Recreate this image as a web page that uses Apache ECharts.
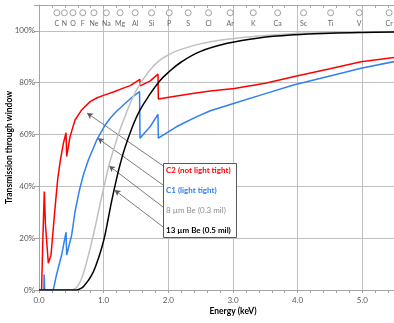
<!DOCTYPE html>
<html>
<head>
<meta charset="utf-8">
<script src="https://cdn.jsdelivr.net/npm/echarts@6/dist/echarts.min.js"></script>
<style>html,body{margin:0;padding:0;background:#fff}#c{width:394px;height:323px}</style>
</head>
<body>
<div id="c"></div>
<script>
// ---- data (Energy keV, Transmission %) ----
const c2Red = [[0.04,0],[0.06,20],[0.082,38],[0.1,25],[0.108,22.5],[0.125,22],[0.144,10.3],[0.186,13.5],[0.22,23.5],[0.26,35],[0.29,43],[0.33,50],[0.377,56.6],[0.418,60.7],[0.428,51.5],[0.48,59.2],[0.557,65.6],[0.66,69.5],[0.79,72.7],[0.9,74.2],[1.02,75.3],[1.15,76.4],[1.305,77.9],[1.41,78.9],[1.56,81.3],[1.565,78.8],[1.72,80.7],[1.84,83.3],[1.845,73.7],[2.13,74.9],[2.4,75.9],[2.65,76.8],[3.02,77.8],[3.5,79.8],[3.95,82.4],[4.5,85.4],[4.98,88.1],[5.5,89.8],[5.6,90.1]];
const c1Blue = [[0.0,0],[0.075,0],[0.08,6],[0.088,0],[0.22,0],[0.27,5.8],[0.35,13.5],[0.418,22.3],[0.428,13.5],[0.505,21.2],[0.557,30.2],[0.62,38],[0.686,44.4],[0.763,50.2],[0.893,57.9],[1.02,63.5],[1.1,66.3],[1.2,69],[1.305,71.4],[1.43,74.2],[1.555,76.6],[1.562,58.6],[1.72,63.1],[1.84,67.8],[1.845,58.6],[2.0,61],[2.13,63.1],[2.44,66.9],[2.65,69.2],[3.02,72.1],[3.5,75.8],[3.95,79.2],[4.5,82.6],[4.98,85.6],[5.5,88.2],[5.6,88.7]];
const be8Grey = [[0,0],[0.5,0],[0.56,0.5],[0.61,2],[0.66,4.5],[0.71,8.4],[0.76,13],[0.816,18.6],[0.87,24.5],[0.918,30.2],[0.97,36],[1.02,41.5],[1.08,48],[1.176,56],[1.254,62],[1.33,67],[1.41,72],[1.5,76.8],[1.615,81.5],[1.72,85],[1.873,88.8],[2.0,90.7],[2.13,92.3],[2.49,95],[2.91,96.8],[3.4,98],[3.95,99],[4.5,99.4],[5.0,99.6],[5.6,99.7]];
const be13Black = [[0,0],[0.58,0],[0.65,0.6],[0.71,2],[0.76,3.6],[0.816,5.8],[0.87,8.8],[0.918,12.2],[0.97,16.3],[1.02,21.2],[1.07,27.5],[1.125,34.5],[1.2,43],[1.26,49],[1.33,55],[1.46,64],[1.563,69.5],[1.7,75],[1.86,80.5],[2.0,84],[2.2,88],[2.49,92],[2.91,95.2],[3.4,97.3],[3.95,98.5],[4.5,99.1],[5.0,99.4],[5.6,99.6]];
const seriesNames = ['C2 (not light tight)','C1 (light tight)','8 \u00b5m Be (0.3 mil)','13 \u00b5m Be (0.5 mil)'];
const seriesColors = ['#ff0000','#2f80f0','#c0c0c0','#000000'];
const elementNames = ['C','N','O','F','Ne','Na','Mg','Al','Si','P','S','Cl','Ar','K','Ca','Sc','Ti','V','Cr'];
const elementEnergies = [0.277,0.392,0.525,0.677,0.849,1.041,1.254,1.487,1.740,2.013,2.307,2.622,2.957,3.313,3.691,4.090,4.510,4.952,5.414];
const xTicks = [0,1,2,3,4,5,6];
const yTicks = [0,20,40,60,80,100];
// arrow annotations: [tail(E,T), head(E,T)]
const arrowHeads = [[0.743,68.3],[0.909,58.6],[1.084,47.9],[1.169,38.6]];
const arrowTails = [[1.92,47.9],[1.92,40.5],[1.92,32.0],[1.92,24.3]];

const FONT = 'Lato, "Liberation Sans", sans-serif';
const chart = echarts.init(document.getElementById('c'), null, {renderer:'canvas'});
const gridCol = '#bfbfbf', axisCol = '#a6a6a6';

const lineData = [c2Red, c1Blue, be8Grey, be13Black];
const series = lineData.map((d,i)=>({
  type:'line', name:seriesNames[i], data:d, showSymbol:false, symbol:'none',
  smooth: i>=2 ? 0.4 : false,
  lineStyle:{color:seriesColors[i], width:1.5}, itemStyle:{color:seriesColors[i]},
  z: 3+i, animation:false, xAxisIndex:0, yAxisIndex:0
}));
series.push({
  type:'scatter', xAxisIndex:0, yAxisIndex:0, animation:false, silent:true,
  data: elementEnergies.map((e,i)=>({value:[e,107], name:elementNames[i]})),
  symbol:'circle', symbolSize:6,
  itemStyle:{color:'#ffffff', borderColor:'#8c8c8c', borderWidth:1},
  label:{show:true, position:'bottom', distance:4, formatter:p=>p.name, fontSize:7, color:'#404040', fontFamily:FONT}
});
series.push({
  type:'line', data:[], xAxisIndex:0, yAxisIndex:0, animation:false, silent:true, z:2,
  markLine:{
    silent:true, animation:false, symbolSize:[5,6], label:{show:false}, z:2,
    lineStyle:{color:'#595959', width:0.8, type:'solid'},
    data: arrowHeads.map((h,i)=>[{coord:arrowTails[i], symbol:'none'},{coord:h, symbol:'arrow'}])
  }
});

chart.setOption({
  animation:false,
  backgroundColor:'#fff',
  grid:{left:39, right:-33, top:5, bottom:33, containLabel:false, outerBoundsMode:'none'},
  xAxis:[{
    type:'value', min:xTicks[0], max:xTicks[xTicks.length-1], interval:1, position:'bottom',
    axisLine:{show:true, onZero:false, lineStyle:{color:axisCol}},
    axisTick:{show:true, length:3, lineStyle:{color:axisCol}},
    minorTick:{show:true, splitNumber:5, length:3, lineStyle:{color:axisCol}},
    splitLine:{show:true, lineStyle:{color:gridCol, width:1}},
    axisLabel:{formatter:v=>v.toFixed(1), fontSize:8, color:'#595959', margin:6, fontFamily:FONT},
    name:'Energy (keV)', nameLocation:'middle', nameGap:17, nameMoveOverlap:false,
    nameTextStyle:{fontWeight:'bold', fontSize:8.5, color:'#000', fontFamily:FONT}
  },{
    type:'value', min:xTicks[0], max:xTicks[xTicks.length-1], interval:1, position:'top',
    axisLine:{show:true, onZero:false, lineStyle:{color:axisCol}},
    axisTick:{show:true, inside:true, length:3, lineStyle:{color:axisCol}},
    minorTick:{show:true, splitNumber:5, length:3, lineStyle:{color:axisCol}},
    splitLine:{show:false}, axisLabel:{show:false}
  }],
  yAxis:{
    type:'value', min:0, max:110, interval:20,
    axisLine:{show:true, lineStyle:{color:axisCol}},
    axisTick:{show:true, length:5, lineStyle:{color:axisCol}},
    splitLine:{show:true, lineStyle:{color:gridCol, width:1}},
    axisLabel:{formatter:v=> yTicks.indexOf(v)>=0 ? v+'%' : '', fontSize:8, color:'#595959', margin:4, fontFamily:FONT},
    name:'Transmission through window', nameLocation:'middle', nameGap:25, nameMoveOverlap:false,
    nameTextStyle:{fontWeight:'bold', fontSize:8.5, color:'#000', fontFamily:FONT}
  },
  series: series,
  graphic:[{
    type:'group', left:163, top:163, z:100, zlevel:1,
    children:[
      {type:'rect', z:100, shape:{x:0.5,y:0.5,width:73,height:74}, style:{fill:'#fff', stroke:'#595959', lineWidth:1}},
      ...seriesNames.map((n,i)=>({
        type:'text', z:101, x:3, y:7+i*20,
        style:{text:n, fill: i===2 ? '#8c8c8c' : seriesColors[i], fontSize:8,
          fontWeight: i===2 ? 'normal' : 'bold', fontFamily:FONT, verticalAlign:'middle'}
      }))
    ]
  }]
});
</script>
</body>
</html>
